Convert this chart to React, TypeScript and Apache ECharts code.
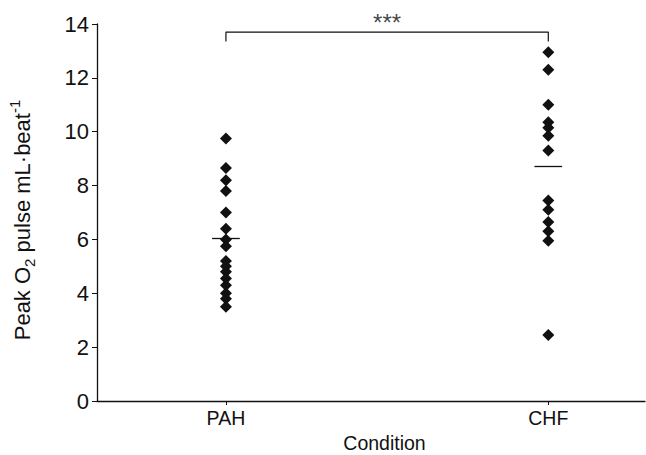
import React, { useEffect, useRef } from "react";
import * as echarts from "echarts";

const categories = ["PAH", "CHF"];
const pahValues = [9.75, 8.65, 8.2, 7.8, 7.0, 6.4, 6.0, 5.75, 5.2, 5.0, 4.8, 4.55, 4.3, 4.0, 3.8, 3.5];
const chfValues = [12.95, 12.3, 11.0, 10.35, 10.15, 9.85, 9.3, 7.45, 7.1, 6.65, 6.3, 5.95, 2.45];
const means = [6.04, 8.72];
const yTicks = { min: 0, max: 14, interval: 2 };
const bracket = { low: 13.35, high: 13.7, label: "***", labelY: 14.06 };

const FONT = "'Liberation Sans', Arial, sans-serif";
const INK = "#111111";

export default function App() {
  const ref = useRef<HTMLDivElement>(null);
  useEffect(() => {
    if (!ref.current) return;
    const chart = echarts.init(ref.current, undefined, { renderer: "svg" });
    const halfW = 0.043;
    const groups = [pahValues, chfValues];
    const scatterSeries = groups.map((vals, i) => ({
      type: "scatter",
      name: categories[i],
      data: vals.map((v) => [i + 1, v]),
      symbol: "diamond",
      symbolSize: 12,
      itemStyle: { color: INK, opacity: 1 },
      silent: true,
      markLine: {
        silent: true,
        symbol: "none",
        label: { show: false },
        lineStyle: { color: INK, type: "solid", width: 1.3 },
        data: [[{ coord: [i + 1 - halfW, means[i]] }, { coord: [i + 1 + halfW, means[i]] }]],
      },
    }));
    chart.setOption({
      animation: false,
      textStyle: { fontFamily: FONT },
      grid: { left: 97, right: 1, top: 24, bottom: 54, containLabel: false, outerBoundsMode: "none" },
      xAxis: {
        type: "value",
        min: 0.6,
        max: 2.3,
        name: "Condition",
        nameLocation: "middle",
        nameGap: 32,
        nameTextStyle: { fontSize: 19.5, color: INK, fontFamily: FONT, padding: [0, 0, 0, 27] },
        axisLine: { lineStyle: { color: INK, width: 1.3 } },
        axisTick: { show: true, length: 4, customValues: [1, 2], lineStyle: { color: INK } },
        axisLabel: {
          customValues: [1, 2],
          formatter: (v: number) => categories[Math.round(v) - 1] ?? "",
          fontSize: 19.5,
          color: INK,
          fontFamily: FONT,
          margin: 7,
        },
        splitLine: { show: false },
      },
      yAxis: {
        type: "value",
        min: yTicks.min,
        max: yTicks.max,
        interval: yTicks.interval,
        name: "Peak O{sub|2} pulse mL·beat{sup|-1}",
        nameLocation: "middle",
        nameGap: 60,
        nameTextStyle: {
          fontSize: 22,
          color: INK,
          fontFamily: FONT,
          lineHeight: 30,
          padding: [0, 15, 0, 0],
          rich: {
            sub: { fontSize: 15, color: INK, fontFamily: FONT, verticalAlign: "bottom", lineHeight: 30, padding: [11, 0, 0, 0] },
            sup: { fontSize: 15, color: INK, fontFamily: FONT, verticalAlign: "top", lineHeight: 30, padding: [0, 0, 11, 0] },
          },
        },
        axisLine: { show: true, lineStyle: { color: INK, width: 1.3 } },
        axisTick: { show: true, length: 5, lineStyle: { color: INK } },
        axisLabel: { fontSize: 22, color: INK, fontFamily: FONT, margin: 8 },
        splitLine: { show: false },
      },
      series: [
        ...scatterSeries,
        {
          type: "line",
          data: [
            [1, bracket.low],
            [1, bracket.high],
            [2, bracket.high],
            [2, bracket.low],
          ],
          symbol: "none",
          silent: true,
          clip: false,
          lineStyle: { color: INK, width: 1.2 },
        },
        {
          type: "scatter",
          data: [[1.5, bracket.labelY]],
          symbolSize: 0,
          clip: false,
          silent: true,
          label: {
            show: true,
            position: "inside",
            formatter: bracket.label,
            fontSize: 24,
            color: INK,
            fontFamily: FONT,
          },
        },
      ],
    });
    return () => chart.dispose();
  }, []);
  return (
    <div
      ref={ref}
      style={{ position: "absolute", left: 0, top: 0, width: 646, height: 455, background: "#ffffff" }}
    />
  );
}
